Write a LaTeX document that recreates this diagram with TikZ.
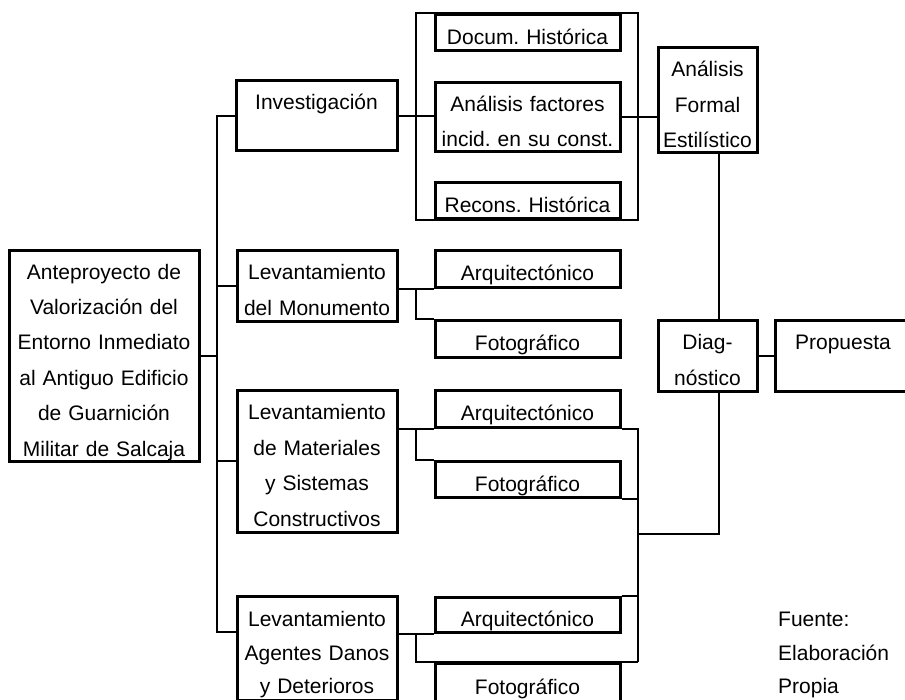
\documentclass[tikz,border=0pt]{standalone}
\usepackage{fontspec}
\setmainfont{Liberation Sans}
\usetikzlibrary{positioning}
\frenchspacing

\begin{document}
\begin{tikzpicture}[x=1pt, y=-1pt, font=\fontsize{21}{35.4}\selectfont]
  \def\boxline{3pt}
  \def\linkline{2pt}
  \tikzset{frame/.style={rectangle, draw, line width=\boxline, inner sep=0pt, align=center,
    minimum width=#1, text width=#1,
    execute at begin node={\rule{0pt}{29pt}}, execute at end node={\rule[-5pt]{0pt}{5pt}}}}
  \tikzstyle{link} = [line width=\linkline]

  \useasboundingbox (0,0) rectangle (905,699);
  \clip (0,0) rectangle (905,699);

  % junction columns
  \coordinate (trunk) at (217,0);
  \coordinate (fork) at (416,0);
  \coordinate (join) at (638,0);
  \coordinate (spine) at (719,0);
  \coordinate (ageline) at (0,632);

  % left column
  \node[frame=190, minimum height=211] (main) at (104,355.5)
    {Anteproyecto de\\Valorización del\\Entorno Inmediato\\al Antiguo Edificio\\de Guarnición\\Militar de Salcaja};

  \node[frame=161, minimum height=69] (invest) at (316.5,115.5) {Investigación\\\mbox{}};
  \node[frame=160, minimum height=71] (levmon) at (317,285.5) {Levantamiento\\del Monumento};
  \node[frame=160, minimum height=142] (levmat) at (317,461)
    {Levantamiento\\de Materiales\\y Sistemas\\Constructivos};
  \node[frame=160, minimum height=104, font=\fontsize{21}{33.5}\selectfont] (levage) at (317,648)
    {Levantamiento\\Agentes Danos\\y Deterioros};

  % middle column
  \node[frame=185, minimum height=36] (docum) at (527.5,32) {Docum. Histórica};
  \node[frame=185, minimum height=68] (factores) at (527.5,117) {Análisis factores\\incid. en su const.};
  \node[frame=185, minimum height=36] (recons) at (527.5,200) {Recons. Histórica};

  \node[frame=185, minimum height=37] (arq1) at (527.5,268.5) {Arquitectónico};
  \node[frame=185, minimum height=37] (foto1) at (527.5,338.5) {Fotográfico};
  \node[frame=185, minimum height=37] (arq2) at (527.5,408.5) {Arquitectónico};
  \node[frame=185, minimum height=36] (foto2) at (527.5,479) {Fotográfico};
  \node[frame=185, minimum height=35] (arq3) at (527.5,614.5) {Arquitectónico};
  \node[frame=185, minimum height=38] (foto3) at (527.5,682) {Fotográfico};

  % right column
  \node[frame=99, minimum height=102] (formal) at (707.5,100) {Análisis\\Formal\\Estilístico};
  \node[frame=99, minimum height=71] (diag) at (707.5,355.5) {Diag-\\nóstico};
  \node[frame=136, minimum height=71] (prop) at (843,355.5) {Propuesta\\\mbox{}};

  \node[anchor=north west, align=left, inner sep=0pt] (fuente) at (778,612)
    {Fuente:\\[-2pt]Elaboración\\[-2pt]Propia};

  % trunk
  \draw[link] (main.east) -- (main.east -| trunk);
  \draw[link] (invest.west) -| (trunk |- ageline) -- (levage.west |- ageline);
  \draw[link] (levmon.west) -- (levmon.west -| trunk);
  \draw[link] (levmat.west) -- (levmat.west -| trunk);

  % investigacion
  \draw[link] (invest.east) -- (invest.east -| factores.west);
  \draw[link] (docum.north west -| fork) rectangle (recons.south east -| join);
  \draw[link] (factores.east) -- (factores.east -| formal.west);
  \draw[link] (formal.south -| spine) -- (diag.north -| spine);
  \draw[link] (diag.east) -- (prop.west);

  % levantamientos
  \draw[link] (arq1.south west) -- (arq1.south west -| levmon.east);
  \draw[link] (arq1.south west -| fork) |- (foto1.north west);
  \draw[link] (arq2.south west) -- (arq2.south west -| levmat.east);
  \draw[link] (arq2.south west -| fork) |- (foto2.north west);
  \draw[link] (arq3.south west) -- (arq3.south west -| levage.east);
  \draw[link] (arq3.south west -| fork) |- (foto3.north -| join);

  \draw[link] (arq2.south east) -- (arq2.south east -| join) -- (foto3.north -| join);
  \draw[link] (foto2.south east) -- (foto2.south east -| join);
  \draw[link] (arq3.north east) -- (arq3.north east -| join);
  \draw[link] (diag.south -| spine) |- (levmat.south -| join);

\end{tikzpicture}
\end{document}
